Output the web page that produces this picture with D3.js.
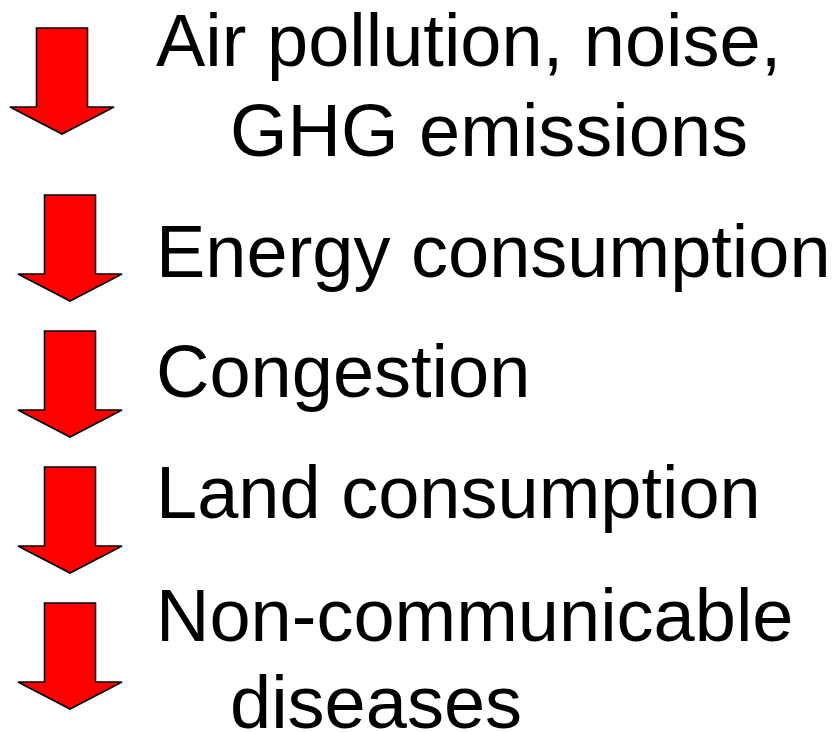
<!DOCTYPE html>
<html><head><meta charset="utf-8">
<script src="https://cdn.jsdelivr.net/npm/d3@7"></script>
<style>html,body{margin:0;padding:0;background:#fff;}svg{display:block;}</style>
</head><body>
<script>
// Items (each a downward "decrease" arrow with its label lines)
const labels = [
  ["Air pollution, noise,", "GHG emissions"],
  ["Energy consumption"],
  ["Congestion"],
  ["Land consumption"],
  ["Non-communicable", "diseases"]
];
const arrowTops = [28, 195, 331, 467, 603];
const arrowCenters = [62, 70, 70, 70, 70];
const firstBaselines = [66, 277, 397, 518, 641];
const lineIndents = [0, 74];

const W = 840, H = 732;
const svg = d3.select("body").append("svg").attr("width", W).attr("height", H);

const shaftW = 51, shaftH = 79, headW = 104, headH = 27;

const g = svg.selectAll("g.item").data(labels).join("g").attr("class", "item");

g.append("path")
  .attr("d", (d, i) => {
    const cx = arrowCenters[i], t = arrowTops[i];
    const p = d3.path();
    p.moveTo(cx - shaftW / 2, t);
    p.lineTo(cx + shaftW / 2, t);
    p.lineTo(cx + shaftW / 2, t + shaftH);
    p.lineTo(cx + headW / 2, t + shaftH);
    p.lineTo(cx, t + shaftH + headH);
    p.lineTo(cx - headW / 2, t + shaftH);
    p.lineTo(cx - shaftW / 2, t + shaftH);
    p.closePath();
    return p.toString();
  })
  .attr("fill", "#ff0000")
  .attr("stroke", "#000")
  .attr("stroke-width", 1.6)
  .attr("stroke-linejoin", "miter");

g.each(function (d, i) {
  d3.select(this).selectAll("text").data(d).join("text")
    .attr("x", (s, j) => 156 + lineIndents[j])
    .attr("y", (s, j) => firstBaselines[i] + j * (i === 0 ? 90 : 87))
    .attr("font-family", "'Liberation Sans', Arial, sans-serif")
    .attr("font-size", 74)
    .attr("fill", "#000")
    .text(s => s);
});
</script>
</body></html>
